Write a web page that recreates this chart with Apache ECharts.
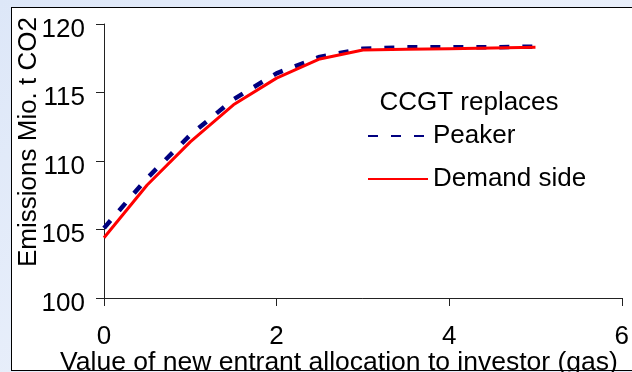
<!DOCTYPE html>
<html>
<head>
<meta charset="utf-8">
<script src="https://cdn.jsdelivr.net/npm/echarts@6/dist/echarts.min.js"></script>
<style>
  html, body { margin: 0; padding: 0; }
  body { width: 632px; height: 372px; overflow: hidden; position: relative;
         background: linear-gradient(135deg, #dde7f8 0%, #eaf0fb 50%, #e4ecf9 100%); }
  #box { position: absolute; left: 11px; top: 7px; width: 660px; height: 362px;
         background: #fff; border: 1px solid #000; }
  #main { position: absolute; left: 0; top: 0; width: 632px; height: 372px; }
</style>
</head>
<body>
<div id="box"></div>
<div id="main"></div>
<script>
// values
var xValues = [0, 0.5, 1, 1.5, 2, 2.5, 3, 3.5, 4, 4.5, 5];
var peaker = [105.1, 108.75, 111.9, 114.5, 116.4, 117.6, 118.2, 118.3, 118.3, 118.3, 118.35];
var demandSide = [104.4, 108.25, 111.4, 114.1, 116.05, 117.45, 118.1, 118.15, 118.2, 118.25, 118.3];
var seriesNames = ['Peaker', 'Demand side'];
var xTicks = [0, 2, 4, 6];
var yTicks = [100, 105, 110, 115, 120];

var FONT = 'Liberation Sans, Arial, sans-serif';

function pairs(ys) {
    return xValues.map(function (x, i) { return [x, ys[i]]; });
}

var chart = echarts.init(document.getElementById('main'));

var option = {
    animation: false,
    backgroundColor: 'transparent',
    grid: { left: 104, top: 24, right: 7, bottom: 74 },
    xAxis: {
        type: 'value',
        min: xTicks[0],
        max: xTicks[xTicks.length - 1],
        interval: 2,
        splitLine: { show: false },
        axisLine: { lineStyle: { color: '#222', width: 1 } },
        axisTick: { show: true, length: 8, lineStyle: { color: '#222' } },
        axisLabel: { fontFamily: FONT, fontSize: 26, color: '#000', margin: 26, showMaxLabel: true }
    },
    yAxis: {
        type: 'value',
        min: yTicks[0],
        max: yTicks[yTicks.length - 1],
        interval: 5,
        splitLine: { show: false },
        axisLine: { show: true, lineStyle: { color: '#222', width: 1 } },
        axisTick: { show: true, length: 8, lineStyle: { color: '#222' } },
        axisLabel: {
            margin: 19,
            formatter: '{v|{value}}',
            rich: { v: { fontFamily: FONT, fontSize: 26, color: '#000', padding: [11, 0, 0, 0] } }
        }
    },
    legend: {
        data: seriesNames,
        orient: 'vertical',
        left: 362,
        top: 118,
        itemWidth: 60,
        itemHeight: 10,
        itemGap: 17,
        itemStyle: { opacity: 0 },
        textStyle: { fontFamily: FONT, fontSize: 26, color: '#000' }
    },
    graphic: [
        {
            type: 'text',
            x: 469, y: 103,
            style: { text: 'CCGT replaces', font: '26px ' + FONT, fill: '#000',
                     textAlign: 'center', textVerticalAlign: 'middle' }
        },
        {
            type: 'text',
            x: 339, y: 363,
            style: { text: 'Value of new entrant allocation to investor (gas)', font: '26.5px ' + FONT,
                     fill: '#000', textAlign: 'center', textVerticalAlign: 'middle' }
        },
        {
            type: 'text',
            x: 29, y: 142,
            rotation: Math.PI / 2,
            style: { text: 'Emissions Mio. t CO2', font: '26px ' + FONT, fill: '#000',
                     textAlign: 'center', textVerticalAlign: 'middle' }
        }
    ],
    series: [
        {
            name: seriesNames[0],
            type: 'line',
            symbol: 'none',
            data: pairs(peaker),
            lineStyle: { color: '#000080', width: 4.5, type: [10, 13] },
            itemStyle: { color: '#000080' }
        },
        {
            name: seriesNames[1],
            type: 'line',
            symbol: 'none',
            data: pairs(demandSide),
            lineStyle: { color: '#ff0000', width: 3 },
            itemStyle: { color: '#ff0000' }
        }
    ]
};

chart.setOption(option);
</script>
</body>
</html>
